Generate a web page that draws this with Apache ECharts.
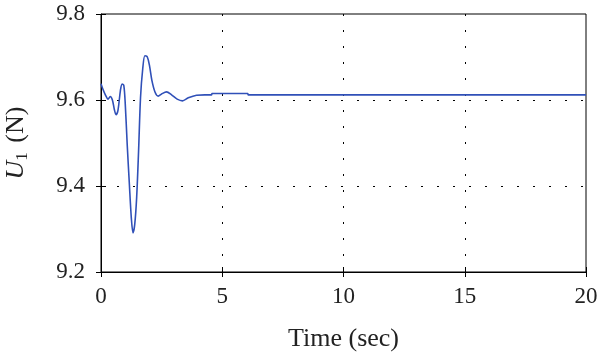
<!DOCTYPE html>
<html>
<head>
<meta charset="utf-8">
<script src="https://cdn.jsdelivr.net/npm/echarts@6/dist/echarts.min.js"></script>
<style>
  html, body { margin: 0; padding: 0; background: #fff; }
  #chart { width: 600px; height: 359px; }
</style>
</head>
<body>
<div id="chart"></div>
<script>
// time (sec) and U1 (N)
const times = [0, 0.08, 0.18, 0.29, 0.38, 0.47, 0.55, 0.62, 0.7, 0.8, 0.87, 0.94, 1.0, 1.08, 1.17, 1.25, 1.32, 1.39, 1.47, 1.55, 1.63, 1.72, 1.81, 1.91, 2.0, 2.1, 2.23, 2.36, 2.5, 2.7, 2.91, 3.14, 3.36, 3.6, 3.94, 4.28, 4.56, 4.58, 6.05, 6.07, 20]
const u1 = [9.638, 9.625, 9.612, 9.602, 9.608, 9.600, 9.578, 9.566, 9.576, 9.622, 9.637, 9.634, 9.591, 9.497, 9.404, 9.326, 9.291, 9.31, 9.373, 9.482, 9.606, 9.672, 9.703, 9.700, 9.680, 9.645, 9.618, 9.609, 9.614, 9.619, 9.612, 9.602, 9.598, 9.605, 9.611, 9.612, 9.612, 9.615, 9.615, 9.612, 9.612]

const xTicks = [0, 5, 10, 15, 20]
const yTicks = [9.2, 9.4, 9.6, 9.8]

const font = '"Liberation Serif", "DejaVu Serif", serif'
const dotted = { color: '#000', width: 1, type: [2, 14] }

const chart = echarts.init(document.getElementById('chart'))
chart.setOption({
  animation: false,
  grid: {
    left: 101, right: 14, top: 14, bottom: 87,
    outerBoundsMode: 'none', containLabel: false,
    show: true, borderColor: '#000', borderWidth: 1
  },
  xAxis: [
    {
      type: 'value',
      min: xTicks[0],
      max: xTicks[xTicks.length - 1],
      interval: 5,
      name: 'Time (sec)',
      nameLocation: 'middle',
      nameGap: 54,
      nameTextStyle: { fontFamily: font, fontSize: 26, color: '#222' },
      axisLine: { lineStyle: { color: '#000' } },
      axisTick: { length: 5, lineStyle: { color: '#000' } },
      axisLabel: { fontFamily: font, fontSize: 23, color: '#222', margin: 13 },
      splitLine: { show: true, showMinLine: false, showMaxLine: false, lineStyle: dotted }
    },
    {
      type: 'value',
      position: 'bottom',
      min: 0, max: 20, interval: 5,
      axisLine: { show: false },
      axisTick: { inside: true, length: 5, lineStyle: { color: '#000' } },
      axisLabel: { show: false },
      splitLine: { show: false }
    }
  ],
  yAxis: [
    {
      type: 'value',
      min: yTicks[0],
      max: yTicks[yTicks.length - 1],
      interval: 0.2,
      name: '{i|U}{s|1} (N)',
      nameLocation: 'middle',
      nameGap: 70,
      nameTextStyle: {
        fontFamily: font, fontSize: 26, color: '#222',
        rich: {
          i: { fontFamily: font, fontSize: 26, fontStyle: 'italic', color: '#222' },
          s: { fontFamily: font, fontSize: 17, color: '#222', padding: [12, 3, 0, 0] }
        }
      },
      axisLine: { lineStyle: { color: '#000' } },
      axisTick: { length: 5, lineStyle: { color: '#000' } },
      axisLabel: { fontFamily: font, fontSize: 23, color: '#222', margin: 16, formatter: v => v.toFixed(1) },
      splitLine: { show: true, showMinLine: false, showMaxLine: false, lineStyle: dotted }
    },
    {
      type: 'value',
      position: 'left',
      min: 9.2, max: 9.8, interval: 0.2,
      axisLine: { show: false },
      axisTick: { show: true, inside: true, length: 5, lineStyle: { color: '#000' } },
      axisLabel: { show: false },
      splitLine: { show: false }
    }
  ],
  series: [
    {
      type: 'line',
      data: times.map((t, i) => [t, u1[i]]),
      showSymbol: false,
      smooth: 0.3,
      lineStyle: { color: '#3050b8', width: 1.6 }
    }
  ]
})
</script>
</body>
</html>
